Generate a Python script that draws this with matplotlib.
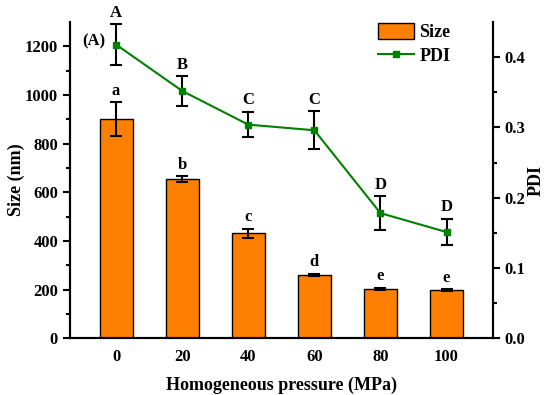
import matplotlib
matplotlib.use("Agg")
import matplotlib.pyplot as plt
from matplotlib.lines import Line2D
import numpy as np

plt.rcParams['font.family'] = ['Liberation Serif', 'DejaVu Serif']
plt.rcParams['font.weight'] = 'bold'

pressure = ['0', '20', '40', '60', '80', '100']
size = [900, 653, 431, 259, 202, 197]
size_err = [70, 12, 18, 5, 5, 4]
size_letters = ['a', 'b', 'c', 'd', 'e', 'e']
pdi = [0.418, 0.352, 0.304, 0.296, 0.178, 0.151]
pdi_err = [0.029, 0.021, 0.018, 0.027, 0.024, 0.019]
pdi_letters = ['A', 'B', 'C', 'C', 'D', 'D']

x = np.arange(len(pressure))

fig = plt.figure(figsize=(5.5, 3.95), dpi=100)
ax = fig.add_axes([0.127, 0.144, 0.769, 0.8])
ax2 = ax.twinx()

bars = ax.bar(x, size, width=0.5, color='#ff8000', edgecolor='black', linewidth=1.0,
              yerr=size_err, capsize=4, error_kw=dict(elinewidth=1.5, capthick=1.5, ecolor='black'),
              label='Size', zorder=2)
for xi, v, e, t in zip(x, size, size_err, size_letters):
    ax.text(xi, v + e + 15, t, ha='center', va='bottom', fontsize=12, fontweight='bold')

ax2.errorbar(x, pdi, yerr=pdi_err, color='#008000', marker='s', markersize=5, linewidth=1.5,
             ecolor='black', elinewidth=1.5, capsize=4, capthick=1.5, zorder=3)
for xi, v, e, t in zip(x, pdi, pdi_err, pdi_letters):
    ax2.text(xi, v + e + 0.005, t, ha='center', va='bottom', fontsize=12, fontweight='bold')

ax.set_xlim(-0.7, 5.7)
ax.set_ylim(0, 1300)
ax2.set_ylim(0, 0.45)
ax.set_xticks(x)
ax.set_xticklabels(pressure)
ax.set_yticks(np.arange(0, 1201, 200))
ax.set_yticks(np.arange(100, 1300, 200), minor=True)
ax2.set_yticks(np.arange(0, 0.41, 0.1))
ax2.set_yticks(np.arange(0.05, 0.45, 0.1), minor=True)
ax2.set_yticklabels(['0.0', '0.1', '0.2', '0.3', '0.4'])

for a in (ax, ax2):
    a.spines['top'].set_visible(False)
    for s in a.spines.values():
        s.set_linewidth(1.5)
    a.tick_params(axis='y', which='major', length=5, width=1.5, labelsize=12)
    a.tick_params(axis='y', which='minor', length=3, width=1.5)
ax.tick_params(axis='x', length=0, labelsize=12, pad=8)

ax.set_xlabel('Homogeneous pressure (MPa)', fontsize=13, fontweight='bold', labelpad=8)
ax.set_ylabel('Size (nm)', fontsize=13, fontweight='bold')
ax2.set_ylabel('PDI', fontsize=13, fontweight='bold', rotation=90)
ax.yaxis.set_label_coords(-0.106, 0.5)
ax2.yaxis.set_label_coords(1.083, 0.5)

ax.text(0.03, 0.965, '(A)', transform=ax.transAxes, fontsize=12, fontweight='bold', va='top')

pdi_handle = Line2D([], [], color='#008000', marker='s', markersize=5, linewidth=1.5)
leg = ax.legend([bars, pdi_handle], ['Size', 'PDI'], loc='upper left', bbox_to_anchor=(0.69, 1.05),
                frameon=False, fontsize=13, handlelength=2.0, handleheight=1.0,
                handletextpad=0.3, labelspacing=0.35)

fig.savefig('out.png', dpi=100)
